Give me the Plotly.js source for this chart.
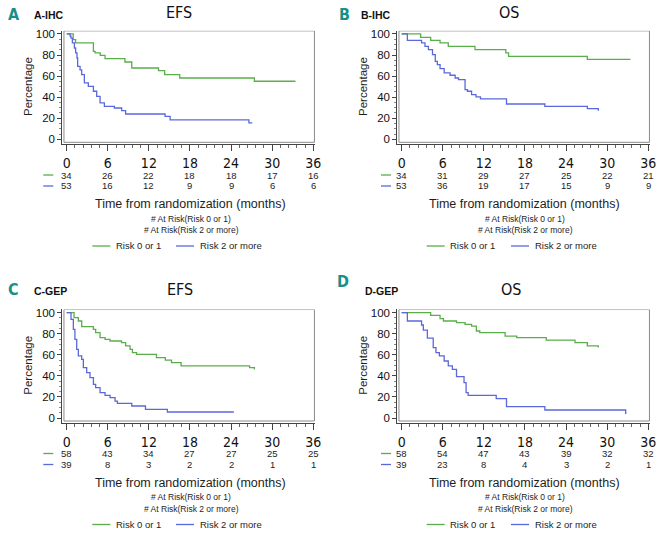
<!DOCTYPE html>
<html><head><meta charset="utf-8">
<script src="https://cdn.plot.ly/plotly-3.0.1.min.js"></script>
<style>html,body{margin:0;padding:0;background:#fff}#chart{width:662px;height:536px}</style>
</head><body><div id="chart"></div>
<script>
// ---------- data ----------
const riskTimes = [0, 6, 12, 18, 24, 30, 36];
const yTicks = [0, 20, 40, 60, 80, 100];

const A_low_risk  = [34, 26, 22, 18, 18, 17, 16];
const A_high_risk = [53, 16, 12, 9, 9, 6, 6];
const B_low_risk  = [34, 31, 29, 27, 25, 22, 21];
const B_high_risk = [53, 36, 19, 17, 15, 9, 9];
const C_low_risk  = [58, 43, 34, 27, 27, 25, 25];
const C_high_risk = [39, 8, 3, 2, 2, 1, 1];
const D_low_risk  = [58, 54, 47, 43, 39, 32, 32];
const D_high_risk = [39, 23, 8, 4, 3, 2, 1];

// Kaplan-Meier steps (time in months, survival in %)
const A_low_t  = [0, 0.95, 1.3, 3.9, 4.15, 4.9, 5.6, 8.5, 9.5, 13.4, 14.3, 16.5, 27.4, 33.4];
const A_low_s  = [100, 94.6, 91.5, 83.5, 82, 79.7, 76.6, 73.4, 67.7, 65.2, 61.4, 58.2, 55.1, 55.1];
const A_high_t = [0, 0.5, 0.63, 0.83, 1.12, 1.31, 1.5, 1.6, 1.95, 2.19, 2.58, 3.16, 3.9, 4.38, 4.87, 5.5, 6.96, 8.03, 8.6, 14.36, 15.1, 26.6, 27.1];
const A_high_s = [100, 98, 96, 91.5, 86.7, 82, 77.2, 69.3, 66, 61.4, 53.5, 50.3, 45.6, 40.8, 34.5, 31.3, 29.7, 27.2, 24, 21.8, 18.4, 15.5, 15.5];

const B_low_t  = [0, 2.77, 4.23, 5.6, 6.8, 10.7, 15.2, 15.6, 27.1, 33.4];
const B_low_s  = [100, 96.8, 94, 91.5, 88.3, 85.1, 82, 78.8, 75.9, 75.9];
const B_high_t = [0, 0.83, 2.9, 3.4, 3.9, 4.5, 4.9, 5.2, 5.6, 6.2, 7.06, 7.8, 8.3, 9.25, 9.6, 10.2, 10.85, 11.5, 15.3, 20.9, 27.1, 28.7];
const B_high_s = [100, 94, 91.5, 88.3, 85.1, 80.4, 74, 70.9, 67.1, 63, 60.8, 58.2, 56.6, 47.2, 45.6, 42.4, 40.2, 38.3, 33.5, 31.3, 29.1, 27];

const C_low_t  = [0, 1.07, 1.7, 2.19, 3.9, 4.23, 4.87, 5.6, 6.33, 8.0, 8.6, 9.25, 9.6, 10.2, 13.1, 14.4, 15.3, 16.7, 26.7, 27.4];
const C_low_s  = [100, 95.3, 92.1, 86.7, 84.2, 81, 76.3, 74.7, 73.1, 71.5, 68.4, 65.2, 62, 60.4, 57.3, 55, 52.5, 49.4, 47.8, 46];
const C_high_t = [0, 0.63, 0.97, 1.2, 1.46, 1.7, 2.19, 2.43, 2.92, 3.4, 3.9, 4.23, 4.87, 5.6, 6.33, 7.06, 7.4, 9.5, 11.5, 14.7, 24.4];
const C_high_s = [100, 93.7, 84.2, 74.7, 65.2, 58.9, 55.7, 47.8, 43, 38.3, 32, 28.8, 24, 21.5, 19.3, 16.1, 13.9, 11.4, 8.2, 5.7, 5.7];

const D_low_t  = [0, 4.23, 5.6, 6.1, 8.0, 9.25, 10.2, 10.9, 11.4, 15.1, 16.8, 21.1, 25.3, 27.1, 28.7];
const D_low_s  = [100, 97.5, 94.3, 92.1, 90.5, 88.9, 87.3, 82.6, 81, 77.8, 76.3, 74, 71.5, 68.4, 67];
const D_high_t = [0, 0.83, 2.9, 3.16, 3.75, 4.6, 5.0, 5.5, 6.2, 6.8, 7.4, 8.0, 9.1, 9.4, 9.7, 13.8, 15.3, 20.9, 32.7, 32.8];
const D_high_s = [100, 92.1, 88.3, 83.5, 75.9, 66.8, 62, 58.9, 54.1, 49.4, 46.2, 39.2, 33.5, 24, 21.5, 18.4, 10.8, 7.6, 4.4, 4.4];

const seriesNames = ['Risk 0 or 1', 'Risk 2 or more'];
const atRiskLabels = ['# At Risk(Risk 0 or 1)', '# At Risk(Risk 2 or more)'];
const xTitle = 'Time from randomization (months)';
const yTitle = 'Percentage';

// ---------- styling ----------
const W = 662, H = 536;
const fx = p => p / W;
const fy = p => 1 - p / H;
const GREEN = '#5aae4a', BLUE = '#5a68dc';
const TEAL = '#17908a';
const SANS = '"Liberation Sans", Arial, sans-serif';
const NARROW = '"Liberation Sans Narrow", "DejaVu Sans Condensed", "Arial Narrow", sans-serif';
const TXT = '#1e1e1e';

const panels = [
  {ax:'', letter:'A', tag:'A-IHC', title:'EFS', col:0, row:0,
   low:[A_low_t, A_low_s], high:[A_high_t, A_high_s], lowRisk:A_low_risk, highRisk:A_high_risk,
   letterXY:[14, 14.5], tagXY:[31.7, 15], titleXY:[179, 12.5]},
  {ax:'2', letter:'B', tag:'B-IHC', title:'OS', col:1, row:0,
   low:[B_low_t, B_low_s], high:[B_high_t, B_high_s], lowRisk:B_low_risk, highRisk:B_high_risk,
   letterXY:[344.5, 14.5], tagXY:[359, 15], titleXY:[508.5, 12.5]},
  {ax:'3', letter:'C', tag:'C-GEP', title:'EFS', col:0, row:1,
   low:[C_low_t, C_low_s], high:[C_high_t, C_high_s], lowRisk:C_low_risk, highRisk:C_high_risk,
   letterXY:[13.5, 289], tagXY:[31.7, 291], titleXY:[180, 289]},
  {ax:'4', letter:'D', tag:'D-GEP', title:'OS', col:1, row:1,
   low:[D_low_t, D_low_s], high:[D_high_t, D_high_s], lowRisk:D_low_risk, highRisk:D_high_risk,
   letterXY:[343, 281], tagXY:[362.7, 290.7], titleXY:[511, 289.5]}
];

const DX = 335, DY = 278.7, TDY = 278.5;
const traces = [], shapes = [], annotations = [];
const layout = {
  width: W, height: H, margin: {l:0, r:0, t:0, b:0},
  paper_bgcolor: '#fff', plot_bgcolor: '#fff', showlegend: false,
  font: {family: SANS, color: TXT}
};

panels.forEach(p => {
  const ox = p.col * DX, oy = p.row * DY, ty = p.row * TDY;
  const xa = 'x' + p.ax, ya = 'y' + p.ax;
  layout['xaxis' + p.ax] = {
    domain: [fx(62.3 + ox), fx(315 + ox)], range: [-0.642, 36.25], anchor: ya,
    tickmode: 'array', tickvals: riskTimes, ticks: 'outside', ticklen: 6, tickwidth: 1,
    tickcolor: '#444', showline: true, linecolor: '#444', linewidth: 1,
    showgrid: false, zeroline: false, fixedrange: true,
    tickfont: {family: NARROW, size: 14, color: '#111'},
    minor: {tick0: 0, dtick: 1.2, ticks: 'outside', ticklen: 3, tickcolor: '#666', showgrid: false}
  };
  layout['yaxis' + p.ax] = {
    domain: [fy(144 + oy), fy(30.7 + oy)], range: [-4.46, 103.1], anchor: xa,
    tickmode: 'array', tickvals: yTicks, ticks: 'outside', ticklen: 4, tickwidth: 1,
    tickcolor: '#444', showline: true, linecolor: '#444', linewidth: 1,
    showgrid: false, zeroline: false, fixedrange: true,
    tickfont: {family: SANS, size: 11.5, color: '#111'},
    minor: {tick0: 0, dtick: 5, ticks: 'outside', ticklen: 2, tickcolor: '#888', showgrid: false}
  };
  // frame box
  shapes.push({type:'rect', xref:xa, yref:ya, x0:-0.4, x1:36.17, y0:-2.85, y1:102.95,
               line:{color:'#8a8a8a', width:1}, fillcolor:'rgba(0,0,0,0)', layer:'below'});
  // curves
  [[p.low, GREEN, seriesNames[0]], [p.high, BLUE, seriesNames[1]]].forEach(([d, c, n]) => {
    traces.push({type:'scatter', mode:'lines', x:d[0], y:d[1], xaxis:xa, yaxis:ya, name:n,
                 line:{shape:'hv', color:c, width:1.3}, hoverinfo:'skip'});
  });
  // letter, tag, title
  annotations.push({xref:'paper', yref:'paper', x:fx(p.letterXY[0]), y:fy(p.letterXY[1]),
    xanchor:'center', yanchor:'middle', showarrow:false, text:'<b>' + p.letter + '</b>',
    font:{family: NARROW, size: 16, color: TEAL}});
  annotations.push({xref:'paper', yref:'paper', x:fx(p.tagXY[0]), y:fy(p.tagXY[1]),
    xanchor:'left', yanchor:'middle', showarrow:false, text:'<b>' + p.tag + '</b>',
    font:{family: SANS, size: 10.5, color: '#111'}});
  annotations.push({xref:'paper', yref:'paper', x:fx(p.titleXY[0]), y:fy(p.titleXY[1]),
    xanchor:'center', yanchor:'middle', showarrow:false, text:p.title,
    font:{family: NARROW, size: 16, color: '#111'}});
  // y title
  annotations.push({xref:'paper', yref:'paper', x:fx(28 + ox), y:fy(87 + oy), textangle:-90,
    xanchor:'center', yanchor:'middle', showarrow:false, text:yTitle,
    font:{family: SANS, size: 11.5, color: TXT}});
  // at-risk rows
  [[p.lowRisk, GREEN, 175], [p.highRisk, BLUE, 186]].forEach(([vals, c, yy]) => {
    vals.forEach((v, i) => {
      annotations.push({xref:xa, yref:'paper', x:riskTimes[i], y:fy(yy + ty),
        xanchor:'center', yanchor:'middle', showarrow:false, text:String(v),
        font:{family: SANS, size: 9.5, color: TXT}});
    });
    const kx = p.col ? 381 : 43.3;
    shapes.push({type:'line', xref:'paper', yref:'paper', x0:fx(kx), x1:fx(kx + 10),
      y0:fy(yy + ty), y1:fy(yy + ty), line:{color:c, width:1.3}});
  });
  const cx = p.col ? 524.5 : 190.5;
  annotations.push({xref:'paper', yref:'paper', x:fx(cx), y:fy(204 + ty),
    xanchor:'center', yanchor:'middle', showarrow:false, text:xTitle,
    font:{family: SANS, size: 12.5, color: TXT}});
  annotations.push({xref:'paper', yref:'paper', x:fx(cx), y:fy(219 + ty),
    xanchor:'center', yanchor:'middle', showarrow:false, text:atRiskLabels[0],
    font:{family: SANS, size: 8.5, color: TXT}});
  annotations.push({xref:'paper', yref:'paper', x:fx(cx + 1), y:fy(230 + ty),
    xanchor:'center', yanchor:'middle', showarrow:false, text:atRiskLabels[1],
    font:{family: SANS, size: 8.5, color: TXT}});
  // legend
  const lx = p.col ? [426.7, 511] : [92.3, 176];
  [[GREEN, seriesNames[0]], [BLUE, seriesNames[1]]].forEach(([c, n], i) => {
    shapes.push({type:'line', xref:'paper', yref:'paper', x0:fx(lx[i]), x1:fx(lx[i] + 18),
      y0:fy(246 + ty), y1:fy(246 + ty), line:{color:c, width:1.3}});
    annotations.push({xref:'paper', yref:'paper', x:fx(lx[i] + 21.5), y:fy(246 + ty),
      xanchor:'left', yanchor:'middle', showarrow:false, text:n,
      font:{family: SANS, size: 9.5, color: TXT}});
  });
});

layout.shapes = shapes;
layout.annotations = annotations;
Plotly.newPlot('chart', traces, layout, {displayModeBar: false, staticPlot: true});
</script>
</body></html>
